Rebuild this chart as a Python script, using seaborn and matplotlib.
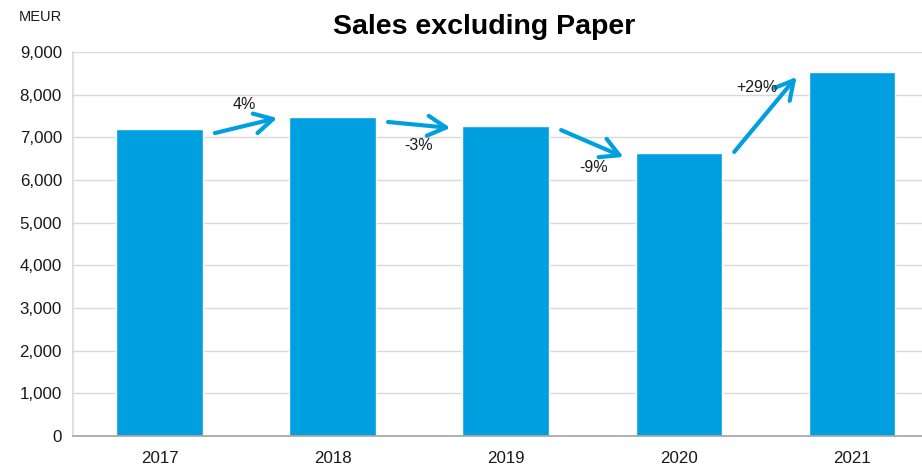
import matplotlib
matplotlib.use("Agg")
import matplotlib.pyplot as plt
import seaborn as sns
import pandas as pd

# Sales excluding Paper, MEUR
years = ["2017", "2018", "2019", "2020", "2021"]
sales = [7200, 7480, 7260, 6630, 8530]
growth_labels = ["4%", "-3%", "-9%", "+29%"]

BLUE = "#009FDF"

sns.set_theme(style="white")
plt.rcParams["font.family"] = ["Liberation Sans", "DejaVu Sans"]

df = pd.DataFrame({"year": years, "sales": sales})

fig = plt.figure(figsize=(9.22, 4.66), dpi=100)
ax = fig.add_axes([73 / 922, 1 - 436 / 466, 1 - 73 / 922, (436 - 52) / 466])

sns.barplot(data=df, x="year", y="sales", color=BLUE, saturation=1, width=0.5, ax=ax)

ax.set_ylim(0, 9000)
ax.set_xlim(-0.5, 4.405)
ax.set_yticks(range(0, 9001, 1000))
ax.set_yticklabels([f"{v:,}" for v in range(0, 9001, 1000)])
ax.yaxis.grid(True, color="#D9D9D9", linewidth=1)
ax.set_axisbelow(True)
ax.set_xlabel("")
ax.set_ylabel("")
ax.tick_params(axis="both", length=0, labelsize=12.2, colors="#1a1a1a")
ax.tick_params(axis="y", pad=8)
ax.tick_params(axis="x", pad=11)
for side in ["top", "right"]:
    ax.spines[side].set_visible(False)
ax.spines["left"].set_color("#D9D9D9")
ax.spines["bottom"].set_color("#A6A6A6")

# growth arrows between consecutive years
start_off = [-100, -120, -90, 27]
end_off = [-27, -40, -90, -115]
label_pos = [(0.49, 7760), (1.497, 6820), (2.509, 6282), (3.45, 8157)]
for i, lab in enumerate(growth_labels):
    ax.annotate(
        "",
        xy=(i + 0.68, sales[i + 1] + end_off[i]),
        xytext=(i + 0.32, sales[i] + start_off[i]),
        arrowprops=dict(arrowstyle="->,head_length=1.1,head_width=0.6",
                        color=BLUE, lw=3, shrinkA=0, shrinkB=0),
    )
    ax.text(label_pos[i][0], label_pos[i][1], lab, ha="center", va="center",
            fontsize=11.5, color="#1a1a1a")

fig.text(484 / 922, 1 - 27 / 466, "Sales excluding Paper", ha="center", va="center",
         fontsize=20.5, fontweight="bold", color="black")
fig.text(40 / 922, 1 - 17 / 466, "MEUR", ha="center", va="center",
         fontsize=10.5, color="#1a1a1a")

fig.savefig("out.png", dpi=100)
